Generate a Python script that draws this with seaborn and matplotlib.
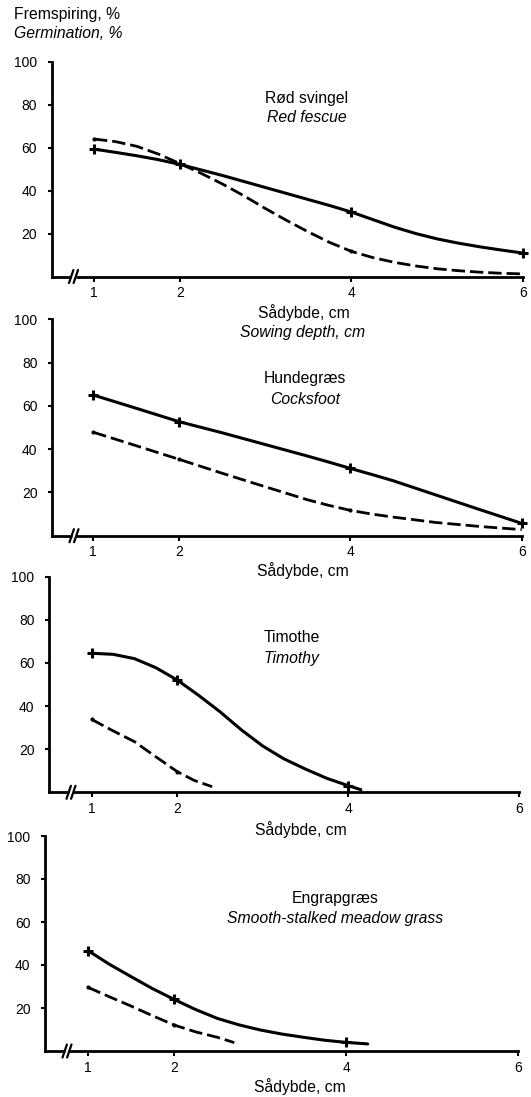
import matplotlib
matplotlib.use("Agg")
import matplotlib.pyplot as plt
import numpy as np
import pandas as pd
import seaborn as sns

sns.set_style("ticks", {"axes.edgecolor": "black", "xtick.color": "black",
                        "ytick.color": "black", "text.color": "black"})
plt.rcParams["font.family"] = ["Liberation Sans", "DejaVu Sans"]

W, H = 531, 1097

# ---------------- data ----------------
depth_ticks = [1, 2, 4, 6]
germ_ticks = [20, 40, 60, 80, 100]

# Red fescue / Rød svingel
fescue_x = [1, 1.25, 1.5, 1.75, 2, 2.25, 2.5, 2.75, 3, 3.25, 3.5, 3.75, 4,
            4.25, 4.5, 4.75, 5, 5.25, 5.5, 5.75, 6]
fescue_solid = [59.3, 57.8, 56.2, 54.4, 52.2, 49.6, 47.0, 44.2, 41.4, 38.6, 35.8, 33.0, 30.0,
                26.5, 23.0, 20.0, 17.5, 15.5, 13.8, 12.3, 10.9]
fescue_dash = [64.0, 62.8, 60.6, 57.0, 52.6, 48.0, 43.0, 37.5, 31.6, 26.0, 20.7, 15.8, 11.7,
               8.8, 6.6, 4.9, 3.6, 2.7, 2.0, 1.5, 1.2]
fescue_solid_pts = [1, 2, 4, 6]
fescue_dash_pts = [1, 4]

# Cocksfoot / Hundegræs
cocks_x = [1, 1.5, 2, 2.5, 3, 3.5, 3.75, 4, 4.25, 4.5, 5, 5.5, 6]
cocks_solid = [65.0, 58.9, 52.7, 47.6, 42.2, 36.8, 34.0, 31.1, 28.3, 25.4, 18.8, 12.2, 5.7]
cocks_dash = [47.8, 41.6, 35.3, 28.9, 22.7, 16.6, 14.0, 11.7, 10.0, 8.6, 6.1, 4.3, 2.8]
cocks_solid_pts = [1, 2, 4, 6]
cocks_dash_pts = [1, 2, 4]

# Timothy / Timothe
timo_solid_x = [1, 1.25, 1.5, 1.75, 2, 2.25, 2.5, 2.75, 3, 3.25, 3.5, 3.75, 4, 4.15]
timo_solid = [64.5, 64.0, 62.0, 57.8, 52.1, 45.0, 37.4, 29.0, 21.5, 15.5, 10.8, 6.5, 3.1, 1.2]
timo_dash_x = [1, 1.25, 1.5, 1.75, 2, 2.2, 2.41]
timo_dash = [33.8, 28.5, 23.5, 16.5, 9.6, 5.5, 2.6]
timo_solid_pts = [1, 2, 4]
timo_dash_pts = [1, 2]

# Smooth-stalked meadow grass / Engrapgræs
meadow_solid_x = [1, 1.25, 1.5, 1.75, 2, 2.25, 2.5, 2.75, 3, 3.25, 3.5, 3.75, 4, 4.25]
meadow_solid = [46.7, 40.3, 34.6, 29.0, 24.0, 19.3, 15.2, 12.2, 9.8, 7.9, 6.4, 5.0, 4.0, 3.3]
meadow_dash_x = [1, 1.25, 1.5, 1.75, 2, 2.25, 2.5, 2.7]
meadow_dash = [29.6, 25.2, 20.9, 16.4, 12.1, 8.9, 6.4, 3.9]
meadow_solid_pts = [1, 2, 4]
meadow_dash_pts = [1, 2]

panels = [
    dict(name=("Rød svingel", "Red fescue"), sx=fescue_x, sy=fescue_solid,
         dx=fescue_x, dy=fescue_dash, sp=fescue_solid_pts, dp=fescue_dash_pts,
         geo=(51.5, 94, 523, 276.5, 61.7), title_px=(307, 99, 118),
         xlab=[("Sådybde, cm", "normal", 304, 313), ("Sowing depth, cm", "italic", 303, 332)]),
    dict(name=("Hundegræs", "Cocksfoot"), sx=cocks_x, sy=cocks_solid,
         dx=cocks_x, dy=cocks_dash, sp=cocks_solid_pts, dp=cocks_dash_pts,
         geo=(52, 93.3, 521.7, 535.7, 319.3), title_px=(305, 379, 399),
         xlab=[("Sådybde, cm", "normal", 303, 571)]),
    dict(name=("Timothe", "Timothy"), sx=timo_solid_x, sy=timo_solid,
         dx=timo_dash_x, dy=timo_dash, sp=timo_solid_pts, dp=timo_dash_pts,
         geo=(49, 91.7, 519, 792.3, 576.7), title_px=(292, 637, 658),
         xlab=[("Sådybde, cm", "normal", 301, 830)]),
    dict(name=("Engrapgræs", "Smooth-stalked meadow grass"), sx=meadow_solid_x, sy=meadow_solid,
         dx=meadow_dash_x, dy=meadow_dash, sp=meadow_solid_pts, dp=meadow_dash_pts,
         geo=(45, 88, 518.3, 1051, 836), title_px=(335, 899, 919),
         xlab=[("Sådybde, cm", "normal", 300, 1087)]),
]

LW = 2.0
TXT = 11.3

fig = plt.figure(figsize=(W / 100, H / 100), dpi=100)

for p in panels:
    spine, x1, x6, y0, y100 = p["geo"]
    ppc = (x6 - x1) / 5.0
    xmin = 1 - (x1 - spine) / ppc
    ax = fig.add_axes([spine / W, 1 - y0 / H, (x6 - spine) / W, (y0 - y100) / H])
    ax.set_xlim(xmin, 6.0)
    ax.set_ylim(0, 100)

    solid = pd.DataFrame({"depth": p["sx"], "germ": p["sy"]})
    dash = pd.DataFrame({"depth": p["dx"], "germ": p["dy"]})
    sns.lineplot(data=solid, x="depth", y="germ", ax=ax, color="black", lw=LW + 0.2,
                 solid_joinstyle="round", clip_on=False, zorder=4)
    sns.lineplot(data=dash, x="depth", y="germ", ax=ax, color="black", lw=LW,
                 linestyle=(0, (4.8, 1.8)), dash_joinstyle="round", clip_on=False, zorder=4)
    sp = solid[solid["depth"].isin(p["sp"])]
    dp = dash[dash["depth"].isin(p["dp"])]
    sns.scatterplot(data=sp, x="depth", y="germ", ax=ax, marker="+", s=60,
                    linewidth=2.2, color="black", clip_on=False, zorder=5)
    sns.scatterplot(data=dp, x="depth", y="germ", ax=ax, marker="o", s=9,
                    linewidth=0, color="black", clip_on=False, zorder=5)

    # species names
    tx = 1 + (p["title_px"][0] - x1) / ppc
    yscale = (y0 - y100) / 100.0
    ax.text(tx, (y0 - p["title_px"][1]) / yscale, p["name"][0], ha="center", va="center",
            fontsize=TXT)
    ax.text(tx, (y0 - p["title_px"][2]) / yscale, p["name"][1], ha="center", va="center",
            fontsize=TXT, style="italic")

    # axes styling
    sns.despine(ax=ax)
    for s in ("left", "bottom"):
        ax.spines[s].set_linewidth(LW)
    ax.set_xticks(depth_ticks)
    ax.set_xticklabels([str(t) for t in depth_ticks])
    ax.set_yticks(germ_ticks)
    ax.set_yticklabels([str(t) for t in germ_ticks])
    ax.tick_params(axis="x", direction="out", length=3.5, width=1.5, pad=3.5, labelsize=10)
    ax.tick_params(axis="y", direction="out", length=3.0, width=1.5, pad=7.5, labelsize=10)
    ax.set_xlabel("")
    ax.set_ylabel("")

    # axis break mark
    xb = 1 - (x1 - (spine + 22)) / ppc
    ddx = 2.2 / ppc
    ddy = 6.5 / yscale
    ax.plot([xb - 2.3 / ppc, xb + 2.3 / ppc], [0, 0], color="white", lw=LW + 1.5,
            clip_on=False, zorder=6, solid_capstyle="butt")
    for off in (-2.3, 2.3):
        xc = xb + off / ppc
        ax.plot([xc - ddx, xc + ddx], [-ddy, ddy], color="black", lw=1.6,
                clip_on=False, zorder=7)

    for txt, style, xp, yp in p["xlab"]:
        fig.text(xp / W, 1 - yp / H, txt, ha="center", va="center", fontsize=TXT, style=style)

fig.text(13.6 / W, 1 - 15 / H, "Fremspiring, %", ha="left", va="center", fontsize=TXT)
fig.text(13.6 / W, 1 - 34 / H, "Germination, %", ha="left", va="center", fontsize=TXT,
         style="italic")

fig.savefig("out.png", dpi=100)
